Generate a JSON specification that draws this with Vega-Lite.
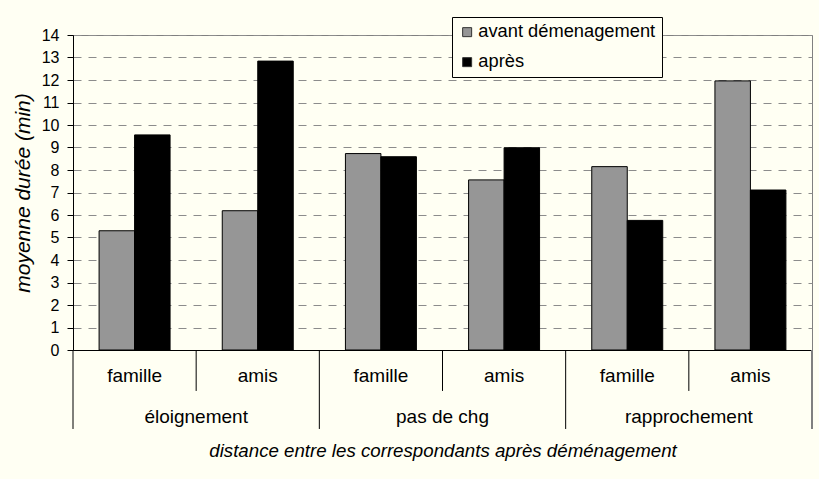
{
  "$schema": "https://vega.github.io/schema/vega-lite/v6.json",
  "width": 739,
  "height": 315,
  "autosize": {"type": "none"},
  "padding": {"left": 73, "top": 35, "right": 7, "bottom": 129},
  "background": "#FFFFF3",
  "config": {
    "font": "Liberation Sans",
    "view": {"stroke": "#808080", "strokeWidth": 1},
    "axis": {"labelColor": "#000000", "titleColor": "#000000", "labelFont": "Liberation Sans", "titleFont": "Liberation Sans"},
    "axisY": {
      "titleFontStyle": "italic",
      "titleFontWeight": "normal",
      "titleFontSize": 21,
      "titlePadding": 8,
      "labelFontSize": 16,
      "labelPadding": 8,
      "labelOverlap": false,
      "tickSize": 6,
      "tickColor": "#000000",
      "domainColor": "#000000",
      "grid": true,
      "gridColor": "#8c8c8c",
      "gridDash": [8, 7],
      "gridWidth": 1
    },
    "axisX": {
      "titleFontStyle": "italic",
      "titleFontWeight": "normal",
      "titleFontSize": 18.7,
      "titlePadding": 56,
      "labelAngle": 0,
      "labelFontSize": 19,
      "labelPadding": 16,
      "ticks": false,
      "tickSize": 0,
      "domainColor": "#000000",
      "domainWidth": 1,
      "grid": false
    }
  },
  "resolve": {"axis": {"x": "independent", "y": "independent"}},
  "datasets": {
    "bars": [
      {"cat": "éloignement|famille", "periode": "avant démenagement", "duree": 5.3},
      {"cat": "éloignement|famille", "periode": "après", "duree": 9.56},
      {"cat": "éloignement|amis", "periode": "avant démenagement", "duree": 6.19},
      {"cat": "éloignement|amis", "periode": "après", "duree": 12.84},
      {"cat": "pas de chg|famille", "periode": "avant démenagement", "duree": 8.73},
      {"cat": "pas de chg|famille", "periode": "après", "duree": 8.59},
      {"cat": "pas de chg|amis", "periode": "avant démenagement", "duree": 7.56},
      {"cat": "pas de chg|amis", "periode": "après", "duree": 8.99},
      {"cat": "rapprochement|famille", "periode": "avant démenagement", "duree": 8.15},
      {"cat": "rapprochement|famille", "periode": "après", "duree": 5.76},
      {"cat": "rapprochement|amis", "periode": "avant démenagement", "duree": 11.96},
      {"cat": "rapprochement|amis", "periode": "après", "duree": 7.11}
    ],
    "subsep": [
      {"cat": "éloignement|amis"},
      {"cat": "pas de chg|amis"},
      {"cat": "rapprochement|amis"}
    ],
    "groups": [
      {"cat": "éloignement|amis", "label": "éloignement"},
      {"cat": "pas de chg|amis", "label": "pas de chg"},
      {"cat": "rapprochement|amis", "label": "rapprochement"}
    ],
    "groupsep": [
      {"cat": "éloignement|famille"},
      {"cat": "pas de chg|famille"},
      {"cat": "rapprochement|famille"}
    ]
  },
  "layer": [
    {
      "data": {"name": "bars"},
      "mark": {"type": "bar", "stroke": "#000000", "strokeWidth": 1},
      "encoding": {
        "x": {
          "field": "cat",
          "type": "nominal",
          "title": "distance entre les correspondants après déménagement",
          "scale": {
            "domain": ["éloignement|famille", "éloignement|amis", "pas de chg|famille", "pas de chg|amis", "rapprochement|famille", "rapprochement|amis"],
            "paddingInner": 0,
            "paddingOuter": 0
          },
          "axis": {"labelExpr": "split(datum.value, '|')[1]"}
        },
        "xOffset": {
          "field": "periode",
          "type": "nominal",
          "scale": {"domain": ["avant démenagement", "après"], "paddingInner": 0, "paddingOuter": 0.735}
        },
        "y": {
          "field": "duree",
          "type": "quantitative",
          "title": "moyenne durée (min)",
          "scale": {"domain": [0, 14], "nice": false, "zero": true},
          "axis": {"values": [0, 1, 2, 3, 4, 5, 6, 7, 8, 9, 10, 11, 12, 13, 14], "tickCount": 30, "format": "d"}
        },
        "color": {
          "field": "periode",
          "type": "nominal",
          "scale": {"domain": ["avant démenagement", "après"], "range": ["#969696", "#000000"]},
          "legend": {
            "title": null,
            "orient": "none",
            "legendX": 379,
            "legendY": -18,
            "symbolType": "square",
            "symbolSize": 81,
            "symbolStrokeColor": "#333333",
            "symbolStrokeWidth": 1,
            "labelFontSize": 18.3,
            "labelFont": "Liberation Sans",
            "labelColor": "#000000",
            "labelLimit": 0,
            "labelOffset": 2,
            "rowPadding": 11,
            "padding": 6,
            "strokeColor": "#000000",
            "fillColor": "#FFFFF3"
          }
        }
      }
    },
    {
      "data": {"name": "subsep"},
      "mark": {"type": "rule", "color": "#000000", "strokeWidth": 1},
      "encoding": {
        "x": {"field": "cat", "type": "nominal", "bandPosition": 0, "axis": null},
        "y": {"datum": 0, "type": "quantitative", "axis": null},
        "y2": {"datum": -1.82}
      }
    },
    {
      "data": {"name": "groupsep"},
      "mark": {"type": "rule", "color": "#000000", "strokeWidth": 1},
      "encoding": {
        "x": {"field": "cat", "type": "nominal", "bandPosition": 0, "axis": null},
        "y": {"datum": 0, "type": "quantitative", "axis": null},
        "y2": {"datum": -3.51}
      }
    },
    {
      "data": {"name": "groupsep"},
      "transform": [{"filter": "datum.cat == 'rapprochement|famille'"}],
      "mark": {"type": "rule", "color": "#808080", "strokeWidth": 2},
      "encoding": {
        "x": {"datum": "rapprochement|amis", "bandPosition": 1, "axis": null},
        "y": {"datum": 0, "type": "quantitative", "axis": null},
        "y2": {"datum": -3.51}
      }
    },
    {
      "data": {"name": "groups"},
      "mark": {"type": "text", "fontSize": 19, "baseline": "alphabetic", "align": "center", "color": "#000000", "font": "Liberation Sans"},
      "encoding": {
        "x": {"field": "cat", "type": "nominal", "bandPosition": 0, "axis": null},
        "y": {"datum": -3.23, "type": "quantitative", "axis": null},
        "text": {"field": "label"}
      }
    }
  ]
}
